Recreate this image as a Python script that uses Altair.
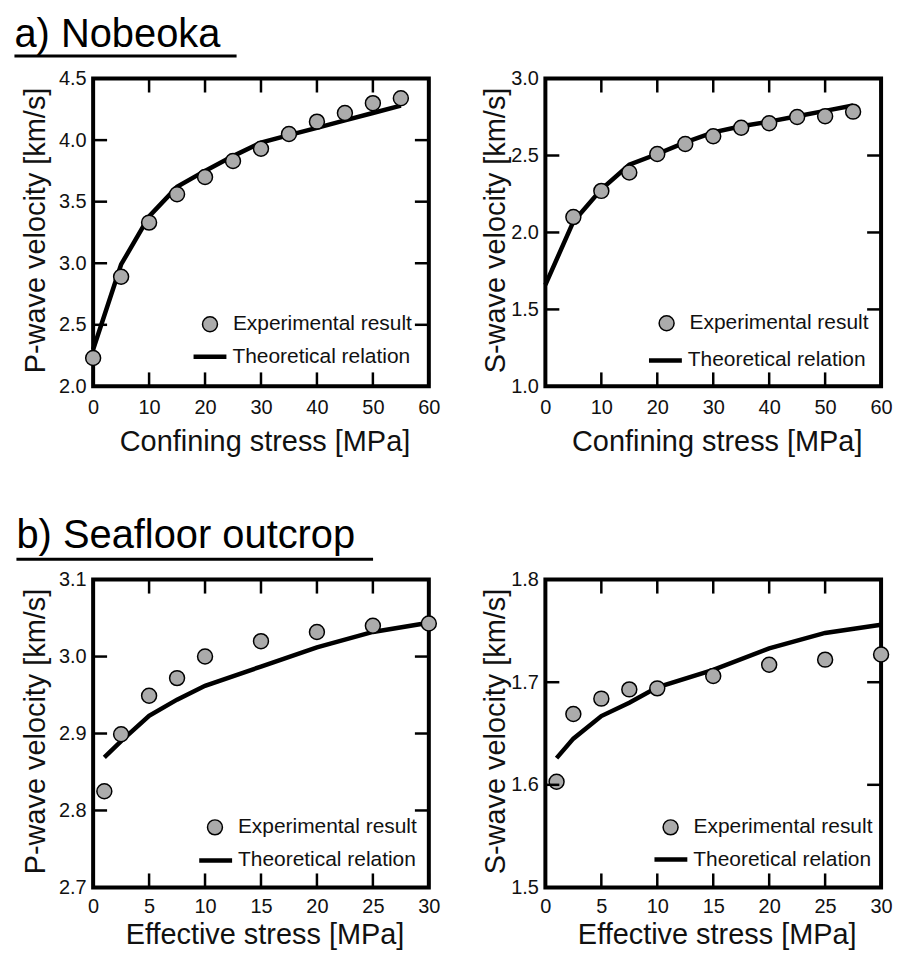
import altair as alt
import pandas as pd

EXP = "Experimental result"
THEORY = "Theoretical relation"
FONT = "Liberation Sans"
INK = "#111111"

# a) Nobeoka -- velocities against confining stress [MPa]
nobeoka_stress = [0, 5, 10, 15, 20, 25, 30, 35, 40, 45, 50, 55]
nobeoka_vp_exp = [2.23, 2.89, 3.33, 3.56, 3.70, 3.83, 3.93, 4.05, 4.15, 4.22, 4.30, 4.34]
nobeoka_vp_theory = [2.30, 2.99, 3.38, 3.62, 3.75, 3.87, 3.98, 4.04, 4.10, 4.16, 4.22, 4.28]
nobeoka_vs_stress_exp = [5, 10, 15, 20, 25, 30, 35, 40, 45, 50, 55]
nobeoka_vs_exp = [2.10, 2.27, 2.39, 2.51, 2.575, 2.625, 2.68, 2.71, 2.75, 2.755, 2.785]
nobeoka_vs_theory = [1.66, 2.07, 2.28, 2.44, 2.51, 2.585, 2.65, 2.69, 2.72, 2.755, 2.79, 2.825]

# b) Seafloor outcrop -- velocities against effective stress [MPa]
seafloor_stress = [1, 2.5, 5, 7.5, 10, 15, 20, 25, 30]
seafloor_vp_exp = [2.825, 2.899, 2.949, 2.972, 3.000, 3.020, 3.032, 3.040, 3.043]
seafloor_vp_theory = [2.869, 2.890, 2.923, 2.944, 2.962, 2.987, 3.012, 3.032, 3.044]
seafloor_vs_exp = [1.603, 1.669, 1.684, 1.693, 1.694, 1.706, 1.717, 1.722, 1.727]
seafloor_vs_theory = [1.626, 1.645, 1.667, 1.680, 1.695, 1.712, 1.733, 1.748, 1.756]

# axis tick values
nobeoka_x_ticks = [0, 10, 20, 30, 40, 50, 60]
seafloor_x_ticks = [0, 5, 10, 15, 20, 25, 30]
nobeoka_vp_ticks = [2.0, 2.5, 3.0, 3.5, 4.0, 4.5]
nobeoka_vs_ticks = [1.0, 1.5, 2.0, 2.5, 3.0]
seafloor_vp_ticks = [2.7, 2.8, 2.9, 3.0, 3.1]
seafloor_vs_ticks = [1.5, 1.6, 1.7, 1.8]

W, H = 337, 309
TICK_LEN = 14


def panel(x_exp, y_exp, x_th, y_th, x_ticks, y_ticks, x_title, y_title, lay, heading=None):
    exp_df = pd.DataFrame({"stress": x_exp, "velocity": y_exp, "series": EXP})
    th_df = pd.DataFrame({"stress": x_th, "velocity": y_th, "series": THEORY})

    xs = alt.Scale(domain=[x_ticks[0], x_ticks[-1]], nice=False, zero=False)
    ys = alt.Scale(domain=[y_ticks[0], y_ticks[-1]], nice=False, zero=False)
    # one axis definition per channel, shared by every layer
    x_axis = alt.Axis(orient="bottom", values=x_ticks, title=x_title, labelPadding=lay["xpad"],
                      labelFlush=False, labelOverlap=False, titleX=172, titleY=lay["xty"],
                      grid=False, ticks=False, tickSize=0, domain=False)
    y_axis = alt.Axis(orient="left", values=y_ticks, format=".1f", title=y_title, labelPadding=7,
                      labelOverlap=False, titleX=lay["ytx"], titleY=152,
                      grid=False, ticks=False, tickSize=0, domain=False)

    line = alt.Chart(th_df).mark_line(strokeWidth=4.5).encode(
        x=alt.X("stress:Q", scale=xs, axis=x_axis),
        y=alt.Y("velocity:Q", scale=ys, axis=y_axis),
        stroke=alt.Stroke("series:N", scale=alt.Scale(domain=[THEORY], range=["black"]),
                          legend=alt.Legend(title=None, orient="none",
                                            legendX=lay["leg_th"][0], legendY=lay["leg_th"][1],
                                            symbolType="stroke", symbolSize=1089,
                                            symbolStrokeWidth=4.5, labelOffset=3.5,
                                            labelFontSize=21, labelColor=INK, labelLimit=400,
                                            padding=0)),
    )

    points = alt.Chart(exp_df).mark_point(
        filled=True, size=225, stroke="black", strokeWidth=1.5, opacity=1
    ).encode(
        x=alt.X("stress:Q", scale=xs, axis=x_axis),
        y=alt.Y("velocity:Q", scale=ys, axis=y_axis),
        fill=alt.Fill("series:N", scale=alt.Scale(domain=[EXP], range=["#ababab"]),
                      legend=alt.Legend(title=None, orient="none",
                                        legendX=lay["leg_exp"][0], legendY=lay["leg_exp"][1],
                                        symbolType="circle", symbolSize=225,
                                        symbolStrokeColor="black", symbolStrokeWidth=1.5,
                                        labelOffset=12.5, labelFontSize=21, labelColor=INK,
                                        labelLimit=400, padding=0)),
    )

    # short tick marks pointing into the frame on all four sides
    xt = alt.Chart(pd.DataFrame({"xtick": x_ticks})).mark_rule(strokeWidth=2.5, color="black")
    yt = alt.Chart(pd.DataFrame({"ytick": y_ticks})).mark_rule(strokeWidth=2.5, color="black")
    XT = alt.X("xtick:Q", scale=xs, axis=x_axis)
    YT = alt.Y("ytick:Q", scale=ys, axis=y_axis)
    ticks = [
        xt.encode(x=XT, y=alt.value(0), y2=alt.value(TICK_LEN)),
        xt.encode(x=XT, y=alt.value(H - TICK_LEN), y2=alt.value(H)),
        yt.encode(y=YT, x=alt.value(0), x2=alt.value(TICK_LEN)),
        yt.encode(y=YT, x=alt.value(W - TICK_LEN), x2=alt.value(W)),
    ]

    layers = [line, points] + ticks
    if heading is not None:
        text, tx, ux2, uy = heading
        head_df = pd.DataFrame({"heading": [text]})
        layers.append(alt.Chart(head_df).mark_text(
            align="left", baseline="top", fontSize=40, font=FONT, color="black"
        ).encode(x=alt.value(tx), y=alt.value(-64), text="heading:N"))
        layers.append(alt.Chart(head_df).mark_rule(strokeWidth=3, color="black").encode(
            x=alt.value(tx), x2=alt.value(ux2), y=alt.value(uy)))

    return alt.layer(*layers).properties(width=W, height=H)


a_left = panel(nobeoka_stress, nobeoka_vp_exp, nobeoka_stress, nobeoka_vp_theory,
               nobeoka_x_ticks, nobeoka_vp_ticks, "Confining stress [MPa]",
               "P-wave velocity [km/s]",
               dict(leg_exp=(106.8, 236.2), leg_th=(98.3, 260.3), ytx=-43, xpad=11.5, xty=41),
               heading=("a) Nobeoka", -79, 144, -22.7))
a_right = panel(nobeoka_vs_stress_exp, nobeoka_vs_exp, nobeoka_stress, nobeoka_vs_theory,
                nobeoka_x_ticks, nobeoka_vs_ticks, "Confining stress [MPa]",
                "S-wave velocity [km/s]",
                dict(leg_exp=(111.2, 235.2), leg_th=(101.5, 264), ytx=-35, xpad=11.5, xty=41))
b_left = panel(seafloor_stress, seafloor_vp_exp, seafloor_stress, seafloor_vp_theory,
               seafloor_x_ticks, seafloor_vp_ticks, "Effective stress [MPa]",
               "P-wave velocity [km/s]",
               dict(leg_exp=(111.8, 238.2), leg_th=(104, 263), ytx=-43, xpad=9.5, xty=33),
               heading=("b) Seafloor outcrop", -77, 281, -20.5))
b_right = panel(seafloor_stress, seafloor_vs_exp, seafloor_stress, seafloor_vs_theory,
                seafloor_x_ticks, seafloor_vs_ticks, "Effective stress [MPa]",
                "S-wave velocity [km/s]",
                dict(leg_exp=(115.2, 238.2), leg_th=(107, 262), ytx=-35, xpad=9.5, xty=33))

chart = alt.concat(
    a_left, a_right, b_left, b_right,
    columns=2, spacing={"row": 194, "column": 117}, bounds="flush",
    padding={"left": 10.5, "top": 11, "right": 6, "bottom": 6},
).resolve_scale(
    fill="independent", stroke="independent"
).configure(
    font=FONT,
).configure_view(
    stroke="black", strokeWidth=4,
).configure_axis(
    labelFontSize=20, labelColor=INK, titleFontSize=29, titleColor=INK,
    titleFontWeight="normal", labelFont=FONT, titleFont=FONT,
).configure_legend(
    labelFont=FONT,
)

chart.save("out.html", embed_options={"renderer": "svg", "actions": False})
